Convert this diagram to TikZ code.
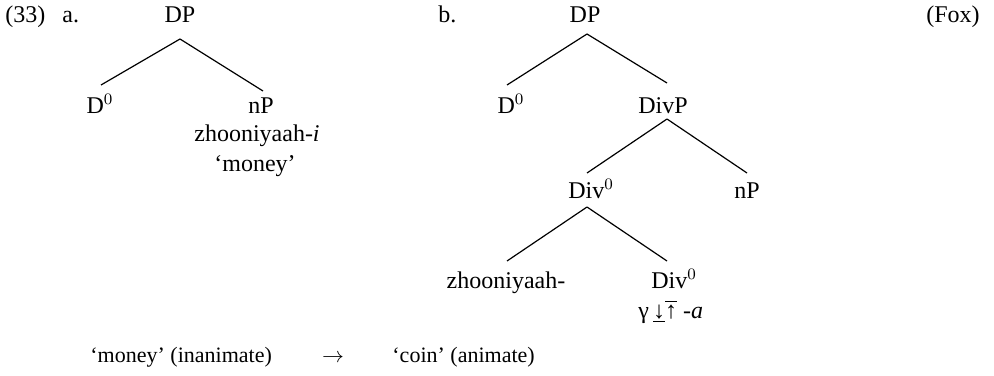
\documentclass[tikz,border=0pt]{standalone}
\usepackage{fontspec}
\setmainfont{Liberation Serif}
\usetikzlibrary{calc}
\tikzset{
  lbl/.style={anchor=base, inner sep=0pt, font=\fontsize{12}{14.4}\selectfont},
  lblw/.style={lbl, anchor=base west},
  lble/.style={lbl, anchor=base east},
  btm/.style={anchor=base west, inner sep=0pt, font=\fontsize{11}{13}\selectfont},
  branch/.style={draw=black, line width=0.6pt}
}
\begin{document}
\begin{tikzpicture}[x=0.5pt,y=-0.5pt]
\useasboundingbox (0,0) rectangle (994,375);
% example a
\node[lblw] (num) at (5,22) {(33)};
\node[lblw] (la) at (62,22) {a.};
\node[lbl] (DPa) at (180,22) {DP};
\node[lbl] (Da) at (100,113) {D$^0$};
\node[lbl] (nPa) at (261,113) {nP};
\node[lbl] (zha) at (257,141) {zhooniyaah-\textit{i}};
\node[lbl] (mona) at (255,171) {`money'};
\draw[branch] ($(DPa.base)+(0,17)$) -- ($(Da.base)+(1,-28)$);
\draw[branch] ($(DPa.base)+(0,17)$) -- ($(nPa.base)+(2,-22)$);
% example b
\node[lblw] (lb) at (438,22) {b.};
\node[lbl] (DPb) at (585,22) {DP};
\node[lbl] (Db) at (511,113) {D$^0$};
\node[lbl] (DivP) at (663,113) {DivP};
\node[lbl] (Div0) at (591,198) {Div$^0$};
\node[lbl] (nPb) at (747,198) {nP};
\node[lbl] (zhb) at (506,288) {zhooniyaah-};
\node[lbl] (Div0b) at (674,288) {Div$^0$};
\node[lblw] (gam) at (638,318) {γ\,$\underline{\hbox{\fontsize{12}{12}\selectfont ↓}}\overline{\hbox{\fontsize{12}{12}\selectfont ↑}}$ -\textit{a}};
\draw[branch] ($(DPb.base)+(2,12)$) -- ($(Db.base)+(-4,-28)$);
\draw[branch] ($(DPb.base)+(2,12)$) -- ($(DivP.base)+(4,-30)$);
\draw[branch] ($(DivP.base)+(4,6)$) -- ($(Div0.base)+(-4,-25)$);
\draw[branch] ($(DivP.base)+(4,6)$) -- ($(nPb.base)+(0,-25)$);
\draw[branch] ($(Div0.base)+(-4,9)$) -- ($(zhb.base)+(1,-27)$);
\draw[branch] ($(Div0.base)+(-4,9)$) -- ($(Div0b.base)+(-7,-27)$);
% right label
\node[lble] (fox) at (980,22) {(Fox)};
% bottom row
\node[btm] (inan) at (90,362) {`money' (inanimate)};
\node[btm, anchor=base] (arr) at (333,362) {$\rightarrow$};
\node[btm] (anim) at (392,362) {`coin' (animate)};
\end{tikzpicture}
\end{document}
